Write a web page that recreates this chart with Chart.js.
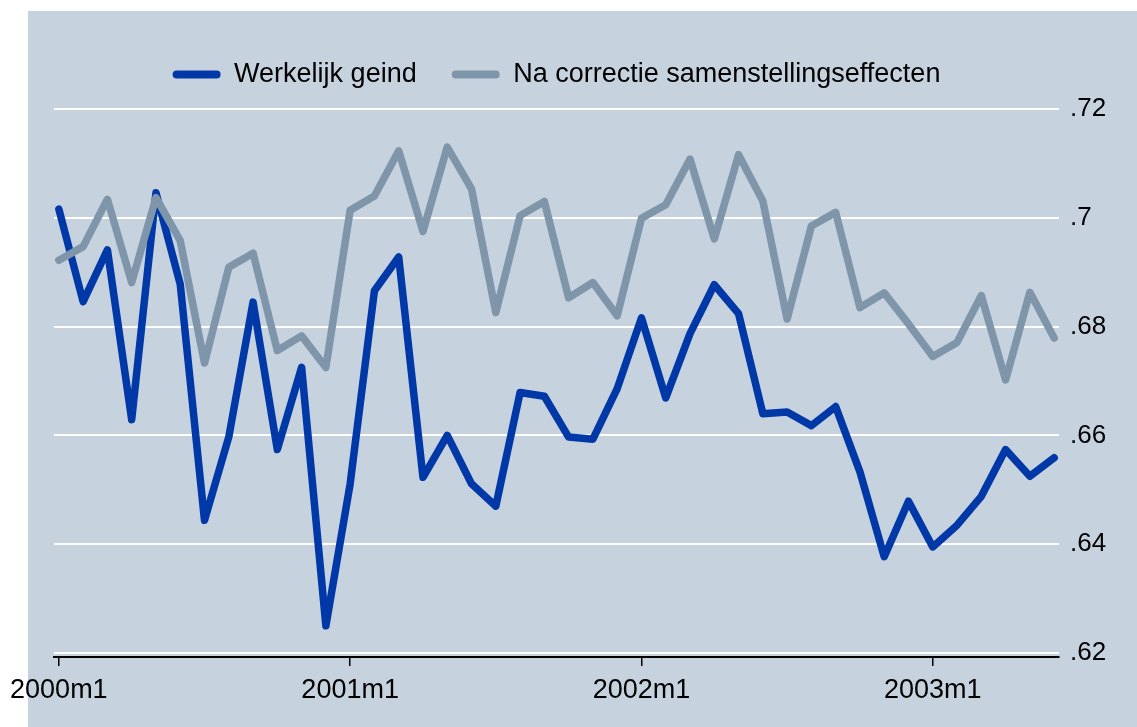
<!DOCTYPE html>
<html>
<head>
<meta charset="utf-8">
<script src="https://cdn.jsdelivr.net/npm/chart.js@4.4.1/dist/chart.umd.min.js"></script>
<style>
  html, body { margin: 0; padding: 0; background: #ffffff; }
  canvas { display: block; }
</style>
</head>
<body>
<canvas id="grafico" width="1137" height="727"></canvas>
<script>
// ==================== DATOS ====================
const maanden = [
  '2000m1','2000m2','2000m3','2000m4','2000m5','2000m6','2000m7','2000m8','2000m9','2000m10','2000m11','2000m12',
  '2001m1','2001m2','2001m3','2001m4','2001m5','2001m6','2001m7','2001m8','2001m9','2001m10','2001m11','2001m12',
  '2002m1','2002m2','2002m3','2002m4','2002m5','2002m6','2002m7','2002m8','2002m9','2002m10','2002m11','2002m12',
  '2003m1','2003m2','2003m3','2003m4','2003m5','2003m6'
];

const werkelijkGeind = [
  0.7016, 0.6846, 0.6941, 0.6629, 0.7046, 0.6878, 0.6444, 0.6597, 0.6845, 0.6574, 0.6725, 0.6250,
  0.6511, 0.6866, 0.6928, 0.6523, 0.6600, 0.6511, 0.6470, 0.6679, 0.6672, 0.6597, 0.6593, 0.6686,
  0.6816, 0.6669, 0.6787, 0.6877, 0.6824, 0.6640, 0.6643, 0.6618, 0.6653, 0.6533, 0.6377, 0.6479,
  0.6395, 0.6435, 0.6488, 0.6574, 0.6525, 0.6559
];

const naCorrectie = [
  0.6922, 0.6947, 0.7034, 0.6881, 0.7037, 0.6958, 0.6733, 0.6909, 0.6935, 0.6756, 0.6783, 0.6725,
  0.7014, 0.7040, 0.7123, 0.6975, 0.7130, 0.7053, 0.6826, 0.7004, 0.7030, 0.6853, 0.6881, 0.6820,
  0.6999, 0.7024, 0.7108, 0.6961, 0.7116, 0.7031, 0.6814, 0.6985, 0.7010, 0.6835, 0.6862, 0.6805,
  0.6745, 0.6771, 0.6857, 0.6702, 0.6863, 0.6779
];

const xTickIndex = [0, 12, 24, 36];
const yTicks = [0.62, 0.64, 0.66, 0.68, 0.70, 0.72];
const yTickLabels = ['.62', '.64', '.66', '.68', '.7', '.72'];

// ==================== ESTILO ====================
const FONT = "'Liberation Sans', Arial, sans-serif";
const BLAUW = '#0038a8';
const GRIJS = '#7f95aa';
const ACHTERGROND = '#c6d2de';

// fondo del gráfico (la zona blanca queda a la izquierda y arriba)
const fondo = {
  id: 'fondo',
  beforeDraw(chart) {
    const c = chart.ctx;
    c.save();
    c.fillStyle = ACHTERGROND;
    c.fillRect(28, 11, chart.width - 28, chart.height - 11);
    c.restore();
  }
};

const toPunten = arr => arr.map((v, i) => ({ x: i, y: v }));

// ==================== GRÁFICO ====================
const ctx = document.getElementById('grafico').getContext('2d');
const grafico = new Chart(ctx, {
  type: 'line',
  data: {
    datasets: [
      {
        label: 'Werkelijk geind',
        data: toPunten(werkelijkGeind),
        borderColor: BLAUW,
        backgroundColor: BLAUW,
        borderWidth: 7.5,
        pointRadius: 0,
        borderCapStyle: 'round',
        borderJoinStyle: 'round',
        tension: 0,
        order: 2
      },
      {
        label: 'Na correctie samenstellingseffecten',
        data: toPunten(naCorrectie),
        borderColor: GRIJS,
        backgroundColor: GRIJS,
        borderWidth: 7.5,
        pointRadius: 0,
        borderCapStyle: 'round',
        borderJoinStyle: 'round',
        tension: 0,
        order: 1
      }
    ]
  },
  options: {
    responsive: false,
    animation: false,
    layout: { padding: { left: 54, top: 26, right: 0, bottom: 0 } },
    plugins: {
      tooltip: { enabled: false },
      // espacio vacío entre la leyenda y el área del gráfico
      subtitle: {
        display: true,
        text: '',
        position: 'top',
        weight: 500,
        fullSize: false,
        padding: 0,
        font: { size: 11, lineHeight: 1 }
      },
      legend: {
        position: 'top',
        fullSize: false,
        labels: {
          color: '#000',
          font: { family: FONT, size: 27 },
          boxWidth: 48,
          boxHeight: 8,
          padding: 35,
          useBorderRadius: true,
          borderRadius: 4,
          generateLabels(chart) {
            return chart.data.datasets.map((ds, i) => ({
              text: ds.label,
              fillStyle: ds.borderColor,
              strokeStyle: ds.borderColor,
              lineWidth: 0,
              borderRadius: 4,
              datasetIndex: i,
              hidden: false
            }));
          }
        }
      }
    },
    scales: {
      x: {
        type: 'linear',
        min: -0.2,
        max: 41.2,
        afterBuildTicks(scale) { scale.ticks = xTickIndex.map(v => ({ value: v })); },
        afterFit(scale) { scale.height = 70; },
        ticks: {
          color: '#000',
          font: { family: FONT, size: 27 },
          padding: 8,
          maxRotation: 0,
          autoSkip: false,
          callback: v => maanden[v]
        },
        grid: {
          drawOnChartArea: false,
          drawTicks: true,
          tickLength: 9,
          color: '#000',
          lineWidth: 1.5
        },
        border: { display: true, color: '#000', width: 2 }
      },
      y: {
        position: 'right',
        min: 0.61927,
        max: 0.72,
        afterBuildTicks(scale) { scale.ticks = yTicks.map(v => ({ value: v })); },
        afterFit(scale) { scale.width = 78; },
        ticks: {
          color: '#000',
          font: { family: FONT, size: 26 },
          padding: 11,
          callback: v => yTickLabels[yTicks.findIndex(t => Math.abs(t - v) < 1e-6)]
        },
        grid: {
          color: '#ffffff',
          lineWidth: 2,
          drawTicks: false
        },
        border: { display: false }
      }
    }
  },
  plugins: [fondo]
});
</script>
</body>
</html>
